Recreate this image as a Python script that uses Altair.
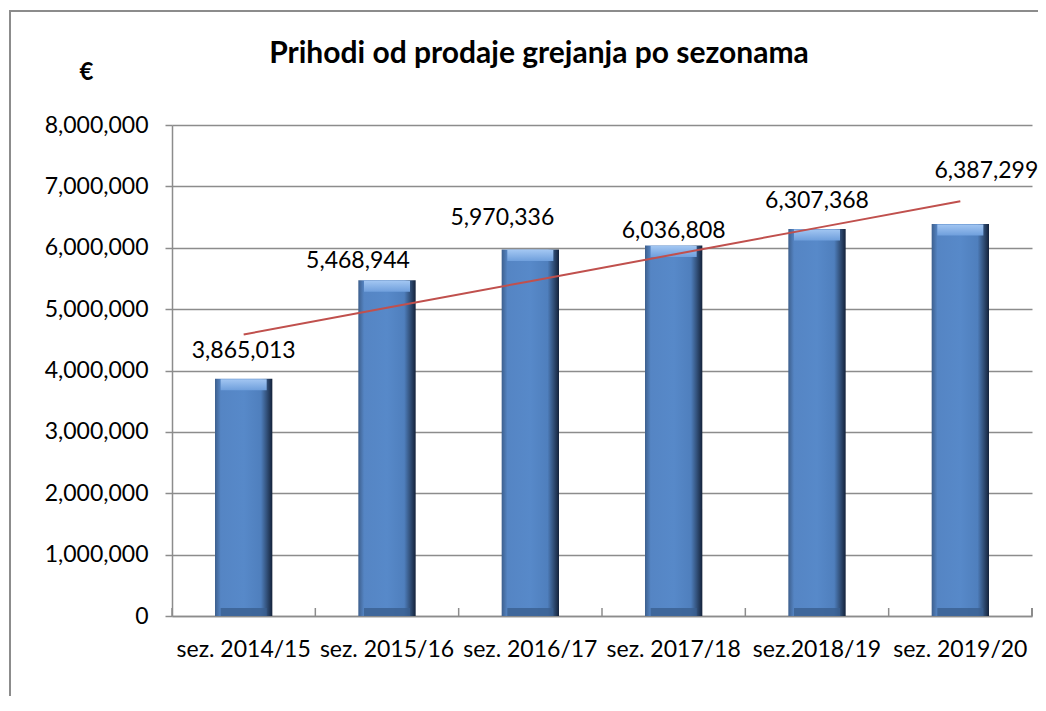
import altair as alt
import pandas as pd
import numpy as np

# ---- data ----
seasons = ["sez. 2014/15", "sez. 2015/16", "sez. 2016/17", "sez. 2017/18", "sez.2018/19", "sez. 2019/20"]
revenue = [3865013, 5468944, 5970336, 6036808, 6307368, 6387299]
y_ticks = [0, 1000000, 2000000, 3000000, 4000000, 5000000, 6000000, 7000000, 8000000]
title_text = "Prihodi od prodaje grejanja po sezonama"
unit_text = "€"

# manual nudges of the value labels (pixels), as placed in the original
label_dx = [0, -29, -28, 0, 0, 26]
label_dy = [-27.5, -19.5, -31.5, -14, -27.5, -52.5]

# ---- layout / style ----
W, H = 860, 491
step = W / len(seasons)
FONT = "Lato"
GRID = "#8c8c8c"

idx = np.arange(1, len(revenue) + 1)
slope, intercept = np.polyfit(idx, revenue, 1)
trend = slope * idx + intercept

df = pd.DataFrame({"season": seasons, "revenue": revenue, "trend": trend})

x_enc = alt.X(
    "season:N",
    sort=seasons,
    scale=alt.Scale(paddingInner=0.6, paddingOuter=0.3),
    axis=alt.Axis(
        title=None, labelAngle=0, labelFont=FONT, labelFontSize=23, labelColor="black",
        ticks=False, domainColor=GRID, domainWidth=1.5, labelPadding=22, grid=False,
    ),
)
y_enc = alt.Y(
    "revenue:Q",
    scale=alt.Scale(domain=[0, 8000000], nice=False),
    axis=alt.Axis(
        values=y_ticks, format=",d", grid=True, gridColor=GRID, gridWidth=1.5,
        tickSize=7, tickColor=GRID, tickWidth=1.5, domainColor=GRID, domainWidth=1.5,
        labelFont=FONT, labelFontSize=23, labelColor="black", labelPadding=17,
        title=unit_text, titleAngle=0, titleX=-86, titleY=-53, titleFont=FONT,
        titleFontSize=24, titleFontWeight="bold", titleAlign="center", titleBaseline="middle",
        titleColor="black",
    ),
)

base = alt.Chart(df)

bar_fill = alt.Gradient(
    gradient="linear", x1=0, x2=1, y1=0, y2=0,
    stops=[
        alt.GradientStop(color="#3d5f8d", offset=0),
        alt.GradientStop(color="#5585c4", offset=0.1),
        alt.GradientStop(color="#5789c9", offset=0.5),
        alt.GradientStop(color="#4f7fbd", offset=0.8),
        alt.GradientStop(color="#33527c", offset=0.9),
        alt.GradientStop(color="#14223a", offset=1),
    ],
)
bars = base.mark_bar(color=bar_fill).encode(x=x_enc, y=y_enc)

top_fill = alt.Gradient(
    gradient="linear", x1=0, x2=0, y1=0, y2=1,
    stops=[
        alt.GradientStop(color="#a2c6f2", offset=0),
        alt.GradientStop(color="#6f9fdc", offset=1),
    ],
)
top_bevel = base.mark_tick(color=top_fill, thickness=11, size=46, yOffset=6, opacity=1).encode(
    x=alt.X("season:N", sort=seasons), y="revenue:Q"
)
bottom_bevel = base.mark_tick(color="#3a5f90", thickness=8, size=46, yOffset=-4, opacity=0.8).encode(
    x=alt.X("season:N", sort=seasons), y=alt.datum(0)
)

trend_line = base.mark_line(color="#c0504d", strokeWidth=2).encode(
    x=alt.X("season:N", sort=seasons), y="trend:Q"
)

x_ticks = base.mark_rule(color=GRID, strokeWidth=1.5, xOffset=-step / 2).encode(
    x=alt.X("season:N", sort=seasons), y=alt.value(H - 8), y2=alt.value(H)
)
end_tick = base.mark_rule(color=GRID, strokeWidth=1.5).encode(
    x=alt.value(W), y=alt.value(H - 8), y2=alt.value(H)
)

labels = []
for s, dx, dy in zip(seasons, label_dx, label_dy):
    labels.append(
        base.transform_filter(alt.datum.season == s)
        .mark_text(font=FONT, fontSize=23, color="black", dx=dx, dy=dy, baseline="middle")
        .encode(x=alt.X("season:N", sort=seasons), y="revenue:Q", text=alt.Text("revenue:Q", format=",d"))
    )

frame = base.mark_rect(fillOpacity=0, stroke=GRID, strokeWidth=1.5).encode(
    x=alt.value(-162), x2=alt.value(W + 60), y=alt.value(-114), y2=alt.value(H + 200)
)

chart = (
    alt.layer(frame, bars, top_bevel, bottom_bevel, x_ticks, end_tick, trend_line, *labels)
    .properties(
        width=W, height=H,
        title=alt.TitleParams(
            text=title_text, font=FONT, fontSize=30, fontWeight="bold", color="black",
            anchor="middle", dx=-63, offset=-59,
        ),
        autosize=alt.AutoSizeParams(type="none"),
        padding={"left": 164, "top": 117, "right": 6, "bottom": 80},
        background="white",
    )
    .configure_view(stroke=None)
)

chart.save("out.html", embed_options={"renderer": "svg", "actions": False})
